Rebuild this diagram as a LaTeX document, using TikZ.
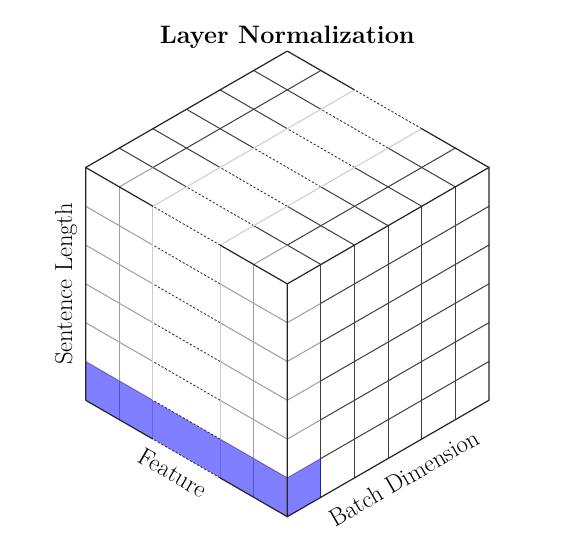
\documentclass[tikz,border=0pt]{standalone}
\usepackage{tikz}
\tikzset{
  rim/.style={line width=0.9pt,black!85},
  grid/.style={line width=0.75pt,black!75},
  soft/.style={line width=0.75pt,gray!75},
  faint/.style={line width=0.75pt,gray!40},
  elide/.style={line width=0.65pt,black!80,dash pattern=on 1.6pt off 1.4pt},
  hilite/.style={fill=blue,fill opacity=0.5},
  lbl/.style={font=\fontsize{18}{22}\selectfont},
  ttl/.style={font=\fontsize{18.5}{22}\selectfont\bfseries},
}

\begin{document}
\begin{tikzpicture}[x={(-0.866cm,0.5cm)},y={(0.866cm,0.5cm)},z={(0cm,1cm)}]
    \useasboundingbox (-7.405cm,-0.626cm) rectangle (7.286cm,13.317cm);
    \begin{scope}
      \foreach \c in {1,...,5} {
        \draw[soft] (0,0,\c) -- (2,0,\c);
        \draw[elide] (2,0,\c) -- (4,0,\c);
        \draw[soft] (4,0,\c) -- (6,0,\c);
      }
      \foreach \a/\s in {1/soft,2/faint,4/faint,5/soft} \draw[\s] (\a,0,0) -- (\a,0,6);
    \end{scope}
    \begin{scope}
      \foreach \c in {1,...,5} {
        \draw[soft] (0,0,\c) -- (0,1,\c);
        \draw[grid] (0,1,\c) -- (0,6,\c);
      }
      \foreach \b in {1,...,5} \draw[grid] (0,\b,0) -- (0,\b,6);
    \end{scope}
    \begin{scope}
      \foreach \b in {1,...,5} {
        \draw[grid] (0,\b,6) -- (2,\b,6);
        \draw[elide] (2,\b,6) -- (4,\b,6);
        \draw[grid] (4,\b,6) -- (6,\b,6);
      }
      \foreach \a in {1,5} {
        \draw[soft] (\a,0,6) -- (\a,1,6);
        \draw[grid] (\a,1,6) -- (\a,6,6);
      }
      \foreach \a in {2,4} \draw[faint] (\a,0,6) -- (\a,6,6);
    \end{scope}
    \fill[hilite] (0,0,0) -- (6,0,0) -- (6,0,1) -- (0,0,1) -- cycle;
    \fill[hilite] (0,0,0) -- (0,1,0) -- (0,1,1) -- (0,0,1) -- cycle;
    \foreach \b/\c in {0/0,0/6,6/6} {
      \draw[rim] (0,\b,\c) -- (2,\b,\c);
      \draw[elide] (2,\b,\c) -- (4,\b,\c);
      \draw[rim] (4,\b,\c) -- (6,\b,\c);
    }
    \draw[rim] (6,0,0) -- (6,0,6) -- (6,6,6);
    \draw[rim] (0,0,0) -- (0,0,6) -- (0,6,6) -- (0,6,0) -- cycle;
    \node[ttl,anchor=base] (title) at (0cm,12.2cm) {Layer Normalization};
    \node[lbl,rotate=90] (sent) at (-5.70cm,6.0cm) {Sentence Length};
    \node[lbl,rotate=-30] (feat) at (-2.95cm,1.13cm) {Feature};
    \node[lbl,rotate=30] (batch) at (3.01cm,1.0cm) {Batch Dimension};
\end{tikzpicture}
\end{document}
